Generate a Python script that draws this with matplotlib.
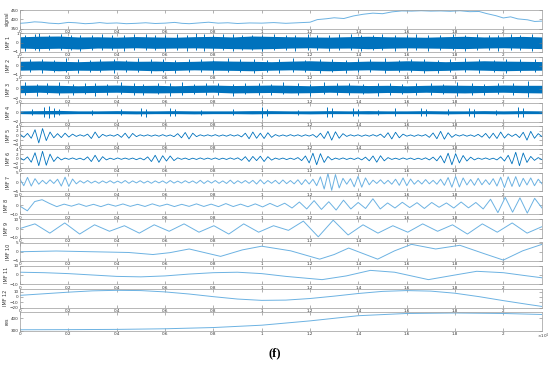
import matplotlib
matplotlib.use("Agg")
import matplotlib.pyplot as plt
import numpy as np

# ------ data (x axis in units of 10^4 samples) ------
x_end = 2.16
xtick_vals = [0, 0.2, 0.4, 0.6, 0.8, 1.0, 1.2, 1.4, 1.6, 1.8, 2.0]
xtick_labels = ["0", "0.2", "0.4", "0.6", "0.8", "1", "1.2", "1.4", "1.6", "1.8", "2"]

signal_x = [0, 0.03, 0.06, 0.09, 0.12, 0.16, 0.2, 0.23, 0.27, 0.3, 0.33, 0.36, 0.4, 0.44,
            0.48, 0.52, 0.56, 0.6, 0.64, 0.67, 0.7, 0.74, 0.78, 0.82, 0.86, 0.9, 0.95, 1.0,
            1.05, 1.1, 1.15, 1.2, 1.23, 1.27, 1.3, 1.34, 1.38, 1.42, 1.46, 1.5, 1.54, 1.58,
            1.62, 1.66, 1.7, 1.74, 1.78, 1.82, 1.86, 1.9, 1.93, 1.97, 2.0, 2.03, 2.06, 2.1,
            2.13, 2.16]
signal_y = [378, 381, 386, 384, 379, 376, 383, 381, 376, 378, 382, 378, 380, 376,
            378, 381, 377, 379, 383, 378, 376, 380, 384, 379, 381, 377, 380, 379,
            382, 378, 381, 384, 398, 403, 408, 404, 418, 427, 433, 430, 440, 445,
            444, 446, 444, 445, 443, 446, 441, 442, 431, 419, 407, 413, 402, 397,
            388, 390]

# dense IMFs: core band edges (28 evenly spaced readings) plus single spikes
imf1_hi = [0.62, 0.68, 0.7, 0.6, 0.62, 0.58, 0.64, 0.6, 0.57, 0.63, 0.66, 0.6, 0.7, 0.66,
           0.62, 0.6, 0.58, 0.63, 0.67, 0.62, 0.6, 0.57, 0.63, 0.67, 0.6, 0.62, 0.66, 0.6]
imf1_lo = [-0.6, -0.66, -0.62, -0.7, -0.6, -0.62, -0.57, -0.63, -0.6, -0.58, -0.62, -0.66, -0.7, -0.66,
           -0.6, -0.57, -0.62, -0.6, -0.67, -0.62, -0.58, -0.6, -0.63, -0.66, -0.6, -0.57, -0.62, -0.66]
imf1_sx = [0.02, 0.06, 0.08, 0.12, 0.17, 0.21, 0.25, 0.3, 0.34, 0.38,
           0.43, 0.47, 0.52, 0.56, 0.6, 0.65, 0.69, 0.73, 0.76, 0.8,
           0.84, 0.88, 0.92, 0.96, 1.0, 1.05, 1.1, 1.14, 1.19, 1.23,
           1.28, 1.32, 1.37, 1.41, 1.46, 1.5, 1.55, 1.6, 1.64, 1.69,
           1.74, 1.79, 1.84, 1.89, 1.94, 1.98, 2.03, 2.07, 2.12]
imf1_shi = [0.85, 0.95, 1.0, 0.8, 0.9, 0.8, 0.78, 0.85, 0.95, 0.8,
            0.82, 0.88, 0.9, 0.8, 0.78, 0.95, 0.85, 1.0, 0.9, 0.85,
            0.95, 0.9, 0.8, 0.85, 0.78, 0.95, 0.85, 0.8, 0.9, 0.85,
            0.78, 0.9, 0.95, 0.8, 0.85, 0.95, 0.8, 0.85, 0.9, 0.78,
            0.85, 0.95, 0.8, 0.9, 0.85, 0.8, 0.95, 0.85, 0.9]
imf1_slo = [-0.9, -0.78, -0.95, -0.8, -0.85, -0.78, -0.9, -0.8, -0.85, -0.78,
            -0.95, -0.85, -0.8, -0.78, -0.9, -0.85, -0.95, -0.8, -0.9, -0.85,
            -0.78, -0.95, -0.85, -0.8, -0.9, -0.78, -0.85, -0.95, -0.8, -0.78,
            -0.9, -0.85, -0.8, -0.95, -0.78, -0.85, -0.9, -0.8, -0.85, -0.95,
            -0.78, -0.8, -0.9, -0.85, -0.78, -0.95, -0.85, -0.8, -0.9]

imf2_hi = [0.48, 0.52, 0.48, 0.44, 0.5, 0.54, 0.48, 0.5, 0.44, 0.48, 0.54, 0.5, 0.48, 0.44,
           0.5, 0.54, 0.48, 0.44, 0.5, 0.48, 0.54, 0.5, 0.44, 0.48, 0.54, 0.5, 0.48, 0.45]
imf2_lo = [-0.48, -0.44, -0.54, -0.48, -0.5, -0.44, -0.48, -0.54, -0.5, -0.44, -0.48, -0.5, -0.54, -0.48,
           -0.44, -0.5, -0.54, -0.48, -0.44, -0.5, -0.48, -0.54, -0.5, -0.44, -0.48, -0.54, -0.5, -0.48]
imf2_sx = [0.04, 0.09, 0.14, 0.19, 0.24, 0.29, 0.33, 0.39, 0.44, 0.49,
           0.54, 0.59, 0.64, 0.7, 0.75, 0.8, 0.86, 0.91, 0.97, 1.02,
           1.07, 1.13, 1.18, 1.24, 1.29, 1.35, 1.4, 1.45, 1.51, 1.57,
           1.62, 1.67, 1.73, 1.78, 1.84, 1.9, 1.96, 2.01, 2.07, 2.13]
imf2_shi = [0.68, 0.75, 0.65, 0.8, 0.7, 0.65, 0.75, 0.68, 0.65, 0.8,
            0.7, 0.75, 0.65, 0.7, 0.75, 0.65, 0.8, 0.7, 0.75, 0.65,
            0.7, 0.8, 0.65, 0.75, 0.7, 0.65, 0.75, 0.7, 0.8, 0.65,
            0.75, 0.7, 0.65, 0.75, 0.8, 0.7, 0.65, 0.75, 0.7, 0.75]
imf2_slo = [-0.65, -0.75, -0.7, -0.65, -0.8, -0.7, -0.65, -0.75, -0.7, -0.65,
            -0.75, -0.7, -0.8, -0.65, -0.7, -0.75, -0.65, -0.7, -0.8, -0.65,
            -0.75, -0.7, -0.65, -0.75, -0.7, -0.8, -0.65, -0.7, -0.75, -0.65,
            -0.7, -0.75, -0.8, -0.65, -0.7, -0.75, -0.65, -0.8, -0.7, -0.65]

imf3_hi = [0.8, 0.85, 0.8, 0.7, 0.8, 0.85, 0.75, 0.8, 0.7, 0.8, 0.85, 0.75, 0.8, 0.85,
           0.8, 0.7, 0.8, 0.85, 0.75, 0.8, 0.7, 0.8, 0.85, 0.8, 0.75, 0.85, 0.8, 0.8]
imf3_lo = [-0.8, -0.7, -0.85, -0.8, -0.75, -0.7, -0.8, -0.85, -0.8, -0.75, -0.7, -0.85, -0.8, -0.75,
           -0.85, -0.8, -0.7, -0.8, -0.85, -0.75, -0.8, -0.7, -0.8, -0.85, -0.75, -0.7, -0.8, -0.85]
imf3_sx = [0.02, 0.07, 0.11, 0.16, 0.22, 0.27, 0.31, 0.36, 0.42, 0.47,
           0.51, 0.57, 0.62, 0.67, 0.72, 0.77, 0.82, 0.88, 0.93, 0.99,
           1.04, 1.09, 1.15, 1.2, 1.26, 1.31, 1.36, 1.42, 1.48, 1.53,
           1.58, 1.64, 1.7, 1.75, 1.81, 1.87, 1.92, 1.98, 2.04, 2.1]
imf3_shi = [1.5, 1.1, 1.2, 1.6, 1.1, 1.2, 1.3, 1.1, 1.5, 1.2,
            1.1, 1.3, 1.2, 1.6, 1.1, 1.2, 1.4, 1.1, 1.2, 1.3,
            1.1, 1.5, 1.2, 1.1, 1.6, 1.2, 1.3, 1.1, 1.2, 1.4,
            1.1, 1.2, 1.3, 1.1, 1.5, 1.2, 1.1, 1.3, 1.2, 1.8]
imf3_slo = [-1.2, -1.5, -1.1, -1.2, -1.3, -1.1, -1.6, -1.2, -1.1, -1.3,
            -1.2, -1.1, -1.5, -1.2, -1.1, -1.3, -1.2, -1.6, -1.1, -1.2,
            -1.3, -1.1, -1.2, -1.5, -1.1, -1.2, -1.3, -1.1, -1.6, -1.2,
            -1.1, -1.3, -1.2, -1.1, -1.5, -1.2, -1.3, -1.1, -1.2, -1.7]

imf4_hi = [0.3, 0.35, 0.4, 0.3, 0.3, 0.35, 0.3, 0.3, 0.35, 0.3, 0.3, 0.3, 0.35, 0.35,
           0.3, 0.3, 0.35, 0.3, 0.35, 0.3, 0.3, 0.35, 0.3, 0.3, 0.35, 0.3, 0.35, 0.3]
imf4_lo = [-0.3, -0.35, -0.35, -0.3, -0.3, -0.3, -0.35, -0.3, -0.3, -0.35, -0.3, -0.3, -0.35, -0.3,
           -0.3, -0.35, -0.3, -0.3, -0.35, -0.3, -0.3, -0.3, -0.35, -0.3, -0.3, -0.35, -0.3, -0.3]
imf4_sx = [0.05, 0.1, 0.12, 0.14, 0.16, 0.3, 0.42, 0.5, 0.52, 0.62,
           0.64, 0.75, 0.88, 1.0, 1.02, 1.15, 1.27, 1.29, 1.38, 1.4,
           1.48, 1.55, 1.66, 1.68, 1.77, 1.86, 1.88, 1.97, 2.06, 2.08]
imf4_shi = [0.6, 1.2, 1.4, 1.0, 0.8, 0.55, 0.6, 1.0, 0.8, 0.9,
            0.7, 0.55, 0.6, 1.1, 0.8, 0.55, 1.2, 0.9, 1.0, 0.8,
            0.55, 0.9, 1.0, 0.8, 0.6, 1.0, 0.8, 0.55, 1.2, 0.9]
imf4_slo = [-0.55, -1.0, -1.3, -1.1, -0.7, -0.6, -0.55, -0.9, -1.0, -0.8,
            -0.9, -0.6, -0.55, -1.2, -0.8, -0.6, -1.0, -1.0, -0.9, -0.9,
            -0.6, -0.8, -0.9, -0.9, -0.55, -0.9, -1.0, -0.6, -1.0, -1.0]

# oscillating IMFs: successive peaks and troughs, evenly spaced
imf5 = [0.6, -0.8, 0.9, -1.2, 2.5, -3.2, 3.0, -2.2, 1.5, -1.0,
        0.8, -0.9, 1.0, -0.7, 0.6, -0.4, 0.3, -0.3, 0.6, -1.3,
        1.5, -1.0, 0.5, -0.3, 0.25, -0.3, 0.5, -0.8, 1.0, -1.2,
        0.9, -0.5, 0.3, -0.25, 0.3, -0.3, 0.25, -0.3, 0.35, -0.3,
        0.25, -0.5, 0.8, -1.0, 1.3, -1.5, 1.0, -0.5, 0.3, -0.25,
        0.3, -0.25, 0.35, -0.3, 0.25, -0.3, 0.35, -0.25, 0.3, -0.6,
        1.0, -1.4, 1.5, -1.2, 1.0, -1.3, 1.2, -0.8, 0.4, -0.3,
        0.25, -0.3, 0.35, -0.25, 0.3, -0.35, 0.3, -0.25, 0.4, -0.8,
        1.0, -1.3, 1.8, -2.0, 1.6, -1.2, 0.8, -0.4, 0.3, -0.25,
        0.3, -0.35, 0.25, -0.3, 0.35, -0.3, 0.6, -0.9, 1.2, -1.5,
        1.4, -1.0, 0.6, -0.3, 0.25, -0.35, 0.3, -0.25, 0.4, -0.8,
        1.1, -1.4, 1.8, -1.6, 1.2, -0.8, 0.4, -0.25, 0.35, -0.3,
        0.25, -0.4, 0.5, -0.7, 0.9, -1.2, 1.0, -1.3, 1.5, -1.1,
        0.7, -0.4, 0.6, -0.9, 1.4, -2.0, 1.8, -1.2, 0.8, -0.5]

imf6 = [0.4, -0.6, 0.8, -1.5, 2.6, -3.0, 3.2, -2.8, 2.0, -1.2,
        0.8, -0.5, 0.3, -0.25, 0.35, -0.3, 0.25, -0.5, 0.8, -1.2,
        1.5, -1.3, 0.9, -0.5, 0.25, -0.3, 0.35, -0.25, 0.3, -0.25,
        0.3, -0.4, 0.3, -0.5, 0.8, -1.2, 1.5, -1.6, 1.3, -1.0,
        1.2, -0.8, 0.4, -0.25, 0.3, -0.35, 0.25, -0.3, 0.35, -0.25,
        0.3, -0.25, 0.35, -0.3, 0.25, -0.3, 0.35, -0.25, 0.4, -0.7,
        0.9, -1.2, 1.0, -0.8, 1.1, -1.2, 0.9, -0.6, 0.3, -0.25,
        0.3, -0.35, 0.25, -0.3, 0.5, -0.8, 1.2, -1.8, 2.4, -2.6,
        2.2, -1.6, 1.0, -0.5, 0.3, -0.25, 0.35, -0.3, 0.25, -0.3,
        0.4, -0.5, 0.7, -0.9, 1.2, -1.5, 1.3, -0.9, 0.5, -0.3,
        0.25, -0.3, 0.35, -0.25, 0.3, -0.35, 0.25, -0.3, 0.4, -0.5,
        0.7, -0.9, 1.3, -1.8, 2.4, -2.6, 2.2, -1.8, 1.4, -1.0,
        0.7, -0.5, 0.3, -0.25, 0.35, -0.3, 0.25, -0.5, 0.8, -1.0,
        1.5, -2.2, 2.8, -3.0, 2.5, -1.6, 1.0, -0.7, 0.5, -0.4]

imf7 = [1.5, -2.0, 2.5, -2.2, 1.8, -1.2, 0.9, -1.0, 1.2, -0.8,
        1.5, -2.2, 2.6, -2.4, 1.6, -1.0, 0.7, -0.6, 0.8, -0.6,
        0.5, -0.7, 0.6, -0.5, 0.7, -0.6, 0.5, -0.6, 0.8, -0.7,
        0.6, -0.5, 0.7, -0.6, 0.5, -0.7, 0.6, -0.5, 0.6, -0.7,
        0.8, -0.6, 0.5, -0.6, 0.7, -0.5, 0.6, -0.7, 0.9, -0.8,
        0.7, -0.6, 0.8, -0.7, 0.6, -0.8, 1.0, -0.9, 0.7, -0.6,
        0.8, -0.7, 0.9, -1.1, 1.2, -1.0, 0.8, -0.7, 0.9, -1.0,
        1.1, -0.9, 0.8, -1.0, 1.2, -1.4, 1.3, -1.1, 1.5, -2.0,
        2.8, -3.8, 4.6, -4.5, 4.0, -3.2, 2.0, -1.2, 1.8, -2.6,
        3.0, -2.8, 2.2, -1.5, 1.0, -0.8, 1.2, -1.0, 0.9, -1.2,
        1.5, -1.8, 2.2, -2.0, 1.6, -1.2, 0.9, -1.1, 1.3, -1.0,
        0.9, -1.2, 1.5, -1.8, 2.4, -2.8, 3.0, -2.7, 2.2, -1.6,
        1.4, -1.8, 2.0, -1.5, 1.2, -1.4, 1.8, -2.2, 2.6, -3.0,
        2.8, -2.4, 2.9, -2.5, 2.0, -1.6, 2.2, -2.0, 1.5, -1.0]

imf8 = [-1, -6, 4, 6, 2, -1.5, 1.2, -1.0, 1.5, -1.2, 1.0, -1.5,
        1.2, -1.0, 1.4, -1.2, 1.0, -1.3, 1.5, -1.0, 1.2, -1.4, 1.0, -1.2,
        1.5, -1.3, 1.2, -1.5, 1.8, -1.4, 1.2, -1.6, 1.5, -1.8, 2.0, -1.5,
        2.2, -3.0, 3.5, -4.0, 5.0, -4.5, 3.8, -5.2, 5.5, -4.0, 3.0, -3.5,
        7.0, -4.0, 2.5, -3.0, 3.2, -2.5, 2.8, -3.5, 3.0, -2.2, 2.5, -3.0,
        3.5, -2.8, 3.0, -4.0, 6.5, -8.0, 8.5, -7.5, 8.0, -8.5, 7.5, -3.0]

imf9 = [0, 5, -5, 6, -6, 4, -3, 3, -5, 4, -3, 5, -4, 3, -6, 5, -4, 3,
        -2, 8, -9, 9, -7, 4, -5, 3, -4, 5, -3, 4, -6, 5, -4, 6, -5, 2]

imf10_x = [0, 0.15, 0.3, 0.45, 0.55, 0.62, 0.7, 0.83, 0.92, 1.0, 1.12, 1.24,
           1.3, 1.36, 1.48, 1.55, 1.62, 1.72, 1.82, 1.92, 2.0, 2.08, 2.16]
imf10_y = [0, 0.4, 0, -0.4, -1.5, -0.5, 1.5, -2.5, 1.0, 3.0, 0.5, -4.0,
           -1.5, 2.0, -4.0, 0.5, 4.0, 1.5, 3.5, -1.0, -4.5, 0.5, 4.0]

imf11_x = [0, 0.1, 0.2, 0.3, 0.4, 0.5, 0.6, 0.7, 0.8, 0.9, 1.0, 1.1, 1.25,
           1.35, 1.45, 1.55, 1.69, 1.8, 1.89, 2.0, 2.1, 2.16]
imf11_y = [3, 2.5, 1.5, 0, -1.5, -2, -1, 1, 2.5, 3, 1.5, -1.5, -5,
           -1, 5, 3, -5, 0, 4, 2.5, -1, -3]

imf12_x = [0, 0.1, 0.2, 0.3, 0.4, 0.5, 0.6, 0.7, 0.8, 0.9, 1.0, 1.1,
           1.2, 1.3, 1.4, 1.5, 1.6, 1.7, 1.8, 1.9, 2.0, 2.1, 2.16]
imf12_y = [3, 6, 9, 11.5, 12.5, 12, 9.5, 5.5, 0.5, -4, -6.5, -6,
           -3, 1.5, 6.5, 10.5, 12, 11, 7, 0.5, -7, -14, -18]

res_x = [0, 0.2, 0.4, 0.6, 0.8, 1.0, 1.2, 1.4, 1.6, 1.8, 2.0, 2.16]
res_y = [308, 309, 311, 316, 326, 345, 380, 422, 440, 444, 440, 432]

names = ["signal", "IMF 1", "IMF 2", "IMF 3", "IMF 4", "IMF 5", "IMF 6", "IMF 7",
         "IMF 8", "IMF 9", "IMF 10", "IMF 11", "IMF 12", "res"]
ylims = [(350, 450), (-1, 1), (-1, 1), (-2, 2), (-2, 2), (-4, 4), (-4, 4), (-5, 5),
         (-10, 10), (-10, 10), (-5, 5), (-10, 10), (-20, 15), (300, 450)]
yticks = [[350, 400, 450], [-1, 0, 1], [-1, 0, 1], [-2, 0, 2], [-2, 0, 2],
          [-4, -2, 0, 2, 4], [-4, -2, 0, 2, 4], [-5, 0, 5], [-10, 0, 10], [-10, 0, 10],
          [-5, 0, 5], [-10, 0, 10], [-20, -10, 0, 10], [300, 400]]

dense = {1: (imf1_hi, imf1_lo, imf1_sx, imf1_shi, imf1_slo),
         2: (imf2_hi, imf2_lo, imf2_sx, imf2_shi, imf2_slo),
         3: (imf3_hi, imf3_lo, imf3_sx, imf3_shi, imf3_slo),
         4: (imf4_hi, imf4_lo, imf4_sx, imf4_shi, imf4_slo)}
wavy = {5: imf5, 6: imf6, 7: imf7, 8: imf8, 9: imf9}
smooth = {0: (signal_x, signal_y), 10: (imf10_x, imf10_y), 11: (imf11_x, imf11_y),
          12: (imf12_x, imf12_y), 13: (res_x, res_y)}

dark_blue = "#0072BD"
light_blue = "#6cb2e2"

fig = plt.figure(figsize=(5.5, 3.75), dpi=100)

# panel geometry in pixels
left_px, right_px = 20, 542
top_px, pitch_px, height_px = 10, 23.25, 18.5

for k in range(14):
    bottom = 1 - (top_px + pitch_px * k + height_px) / 375
    ax = fig.add_axes([left_px / 550, bottom, (right_px - left_px) / 550, height_px / 375])

    if k in dense:
        hi, lo, sx, shi, slo = dense[k]
        ex = np.linspace(0, x_end, len(hi))
        ax.fill_between(ex, lo, hi, color=dark_blue, linewidth=0)
        ax.vlines(sx, slo, shi, color=dark_blue, linewidth=0.7)
    elif k in wavy:
        ys = wavy[k]
        xs = np.linspace(0, x_end, len(ys))
        if k <= 6:
            ax.plot(xs, ys, color=dark_blue, linewidth=0.6)
        else:
            ax.plot(xs, ys, color=light_blue, linewidth=0.7)
    else:
        xs, ys = smooth[k]
        ax.plot(xs, ys, color=light_blue, linewidth=0.7)

    ax.set_xlim(0, x_end)
    ax.set_ylim(ylims[k])
    ax.set_yticks(yticks[k])
    ax.set_xticks(xtick_vals)
    ax.set_xticklabels(xtick_labels)
    ax.tick_params(direction="in", length=2, width=0.4, color="#777777",
                   labelsize=3, labelcolor="#333333", pad=1, top=True, right=True)
    ax.set_ylabel(names[k], fontsize=3.5, labelpad=1, color="#333333")
    for sp in ax.spines.values():
        sp.set_color("#9a9a9a")
        sp.set_linewidth(0.5)

fig.text(0.977, 0.098, r"$\times10^4$", fontsize=3, color="#333333")
fig.text(0.5, 0.058, "(f)", fontsize=9, fontweight="bold", family="Liberation Serif",
         ha="center", va="center")

plt.savefig("out.png", dpi=100)
